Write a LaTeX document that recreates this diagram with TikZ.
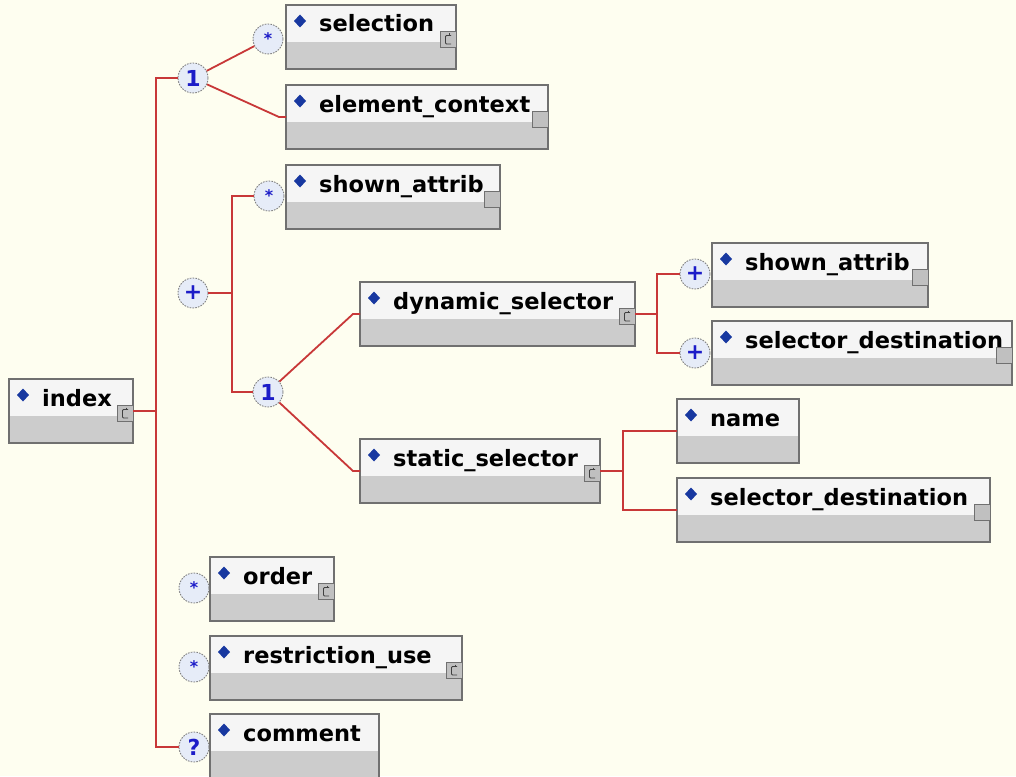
\documentclass[tikz,border=0pt]{standalone}
\usepackage{fontspec}
\setmainfont{DejaVu Sans}
\usetikzlibrary{calc}

\definecolor{bgc}{RGB}{254,254,240}
\definecolor{headc}{RGB}{245,245,245}
\definecolor{bodyc}{RGB}{204,204,204}
\definecolor{framec}{RGB}{112,112,112}
\definecolor{linkc}{RGB}{200,56,56}
\definecolor{markc}{RGB}{28,28,200}
\definecolor{diamc}{RGB}{24,56,160}
\definecolor{ringfill}{RGB}{230,236,248}
\definecolor{iconc}{RGB}{192,192,192}

\tikzset{
  elembox/.style={rectangle, draw=framec, line width=1.2pt, fill=headc, inner sep=0pt,
    outer sep=0pt, anchor=north west,
    path picture={\fill[bodyc] (path picture bounding box.south west)
      rectangle ([yshift=#1]path picture bounding box.south east);}},
  elemtext/.style={anchor=base west, inner sep=0pt, text=black,
    font=\fontsize{22.5}{25}\selectfont\bfseries},
  ring/.style={circle, draw=gray, line width=0.9pt, dash pattern=on 1.6pt off 1.2pt,
    fill=ringfill, minimum size=30pt, inner sep=0pt, text=markc,
    font=\fontsize{22}{22}\selectfont\bfseries},
  smallring/.style={ring, font=\fontsize{16}{16}\selectfont\bfseries},
  link/.style={draw=linkc, line width=1.8pt},
}

% element box: name, x, y, width, height, label
\newcommand\elem[6]{%
  \node[elembox={#5-37}, minimum width=#4pt, minimum height=#5pt] (#1) at (#2,#3) {};
  \node[elemtext] (#1-t) at ($(#1.north west)+(33,27)$) {#6};
  \fill[diamc] ($(#1.north west)+(14,16)$) +(-6,0) -- +(0,-6.5) -- +(6,0) -- +(0,6.5) -- cycle;
}
% complex-type marker in the corner of a box
\newcommand\typeicon[1]{%
  \draw[draw=framec, fill=iconc, line width=0.9pt] ($(#1.north east)+(-16,26)$) rectangle ++(16,16);
  \draw[black!75, line width=0.9pt] ($(#1.north east)+(-5,30.5)$) -- ++(-4.5,0) -- ++(-1,1)
    -- ++(0,6.5) -- ++(1,1) -- ++(4.5,0);
  \draw[black!75, line width=0.9pt] ($(#1.north east)+(-7,28.5)$) -- ++(0,2.5);
}
% plain marker in the corner of a box
\newcommand\plainicon[1]{%
  \draw[draw=framec, fill=iconc, line width=0.9pt] ($(#1.north east)+(-16,26)$) rectangle ++(16,16);
}

\begin{document}
\begin{tikzpicture}[x=1pt, y=-1pt]
  \useasboundingbox (0,0) rectangle (1016,776);
  \fill[bgc] (0,0) rectangle (1016,776);

  % elements
  \elem{index}{9}{379}{124}{64}{index}
  \elem{sel}{286}{5}{170}{64}{selection}
  \elem{ec}{286}{85}{262}{64}{element\_context}
  \elem{sa}{286}{165}{214}{64}{shown\_attrib}
  \elem{dyn}{360}{282}{275}{64}{dynamic\_selector}
  \elem{stat}{360}{439}{240}{64}{static\_selector}
  \elem{dsa}{712}{243}{216}{64}{shown\_attrib}
  \elem{dsd}{712}{321}{300}{64}{selector\_destination}
  \elem{nm}{677}{399}{122}{64}{name}
  \elem{ssd}{677}{478}{313}{64}{selector\_destination}
  \elem{ord}{210}{557}{124}{64}{order}
  \elem{ru}{210}{636}{252}{64}{restriction\_use}
  \elem{cm}{210}{714}{169}{64}{comment}

  \typeicon{index}
  \typeicon{sel}
  \plainicon{ec}
  \plainicon{sa}
  \typeicon{dyn}
  \typeicon{stat}
  \plainicon{dsa}
  \plainicon{dsd}
  \plainicon{ssd}
  \typeicon{ord}
  \typeicon{ru}

  % compositors and occurrence marks
  \node[ring] (c1) at (193,78) {1};
  \node[smallring] (s1) at (268,39) {*};
  \node[smallring] (s2) at (269,196) {*};
  \node[ring] (pc) at (193,293) {+};
  \node[ring] (c2) at (268,392) {1};
  \node[ring] (p1) at (695,274) {+};
  \node[ring] (p2) at (695,353) {+};
  \node[smallring] (so) at (194,588) {*};
  \node[smallring] (sr) at (194,667) {*};
  \node[ring] (q) at (194,747) {?};

  % connectors
  \coordinate (trunk) at (156,411);
  \draw[link] (index.east) -- (trunk);
  \draw[link] (c1) -| (trunk) |- (q);
  \draw[link] (c1) -- (s1);
  \draw[link] (c1) -- ([xshift=-7pt]ec.west) -- (ec.west);

  \coordinate (fork) at (232,293);
  \draw[link] (pc) -- (fork);
  \draw[link] (s2) -| (fork) |- (c2);
  \draw[link] (c2) -- ([xshift=-7pt]dyn.west) -- (dyn.west);
  \draw[link] (c2) -- ([xshift=-7pt]stat.west) -- (stat.west);

  \coordinate (dfork) at (657,314);
  \draw[link] (dyn.east) -- (dfork);
  \draw[link] (p1) -| (dfork) |- (p2);

  \coordinate (sfork) at (623,471);
  \draw[link] (stat.east) -- (sfork);
  \draw[link] (nm.west) -| (sfork) |- (ssd.west);
\end{tikzpicture}
\end{document}
